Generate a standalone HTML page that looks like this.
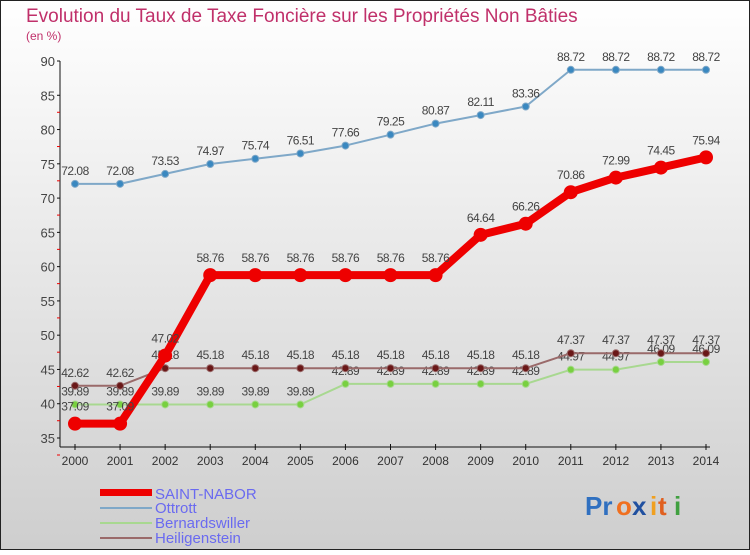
<!DOCTYPE html>
<html><head><meta charset="utf-8"><style>
body{margin:0;width:750px;height:550px;overflow:hidden;font-family:"Liberation Sans",sans-serif}
</style></head><body>
<svg width="750" height="550" xmlns="http://www.w3.org/2000/svg">
<defs><linearGradient id="bg" x1="0" y1="0" x2="0" y2="1"><stop offset="0" stop-color="#ffffff"/><stop offset="1" stop-color="#cecece"/></linearGradient></defs>
<rect x="0.5" y="0.5" width="749" height="549" fill="url(#bg)" stroke="#222"/>
<text x="26" y="22" font-size="19" fill="#c0306a">Evolution du Taux de Taxe Foncière sur les Propriétés Non Bâties</text>
<text x="26" y="40" font-size="12" fill="#c0306a">(en %)</text>
<g id="axes"></g>
<g id="series"></g>
<g>
<rect x="100" y="489" width="52" height="7" fill="#ee0000"/>
<text x="155" y="499" font-size="15" fill="#6a6af0">SAINT-NABOR</text>
<line x1="100" y1="508" x2="152" y2="508" stroke="#7fa8c8" stroke-width="2"/>
<text x="155" y="513" font-size="15" fill="#6a6af0">Ottrott</text>
<line x1="100" y1="523" x2="152" y2="523" stroke="#a8d890" stroke-width="2"/>
<text x="155" y="528" font-size="15" fill="#6a6af0">Bernardswiller</text>
<line x1="100" y1="538" x2="152" y2="538" stroke="#9a6a6a" stroke-width="2"/>
<text x="155" y="543" font-size="15" fill="#6a6af0">Heiligenstein</text>
</g>
<g font-size="26" font-weight="bold">
<text x="585" y="515" fill="#3070c0">Pr</text><text x="616" y="515" fill="#f07020">o</text><text x="632" y="515" fill="#2050a0">x</text><text x="650" y="515" fill="#f0a020">i</text><text x="658" y="515" fill="#e06020">t</text><text x="674" y="515" fill="#40a040">i</text>
</g>
</svg>
<script>
const years=[2000,2001,2002,2003,2004,2005,2006,2007,2008,2009,2010,2011,2012,2013,2014];
const yTicks=[35,40,45,50,55,60,65,70,75,80,85,90];
const saintNabor=[37.09,37.09,47.02,58.76,58.76,58.76,58.76,58.76,58.76,64.64,66.26,70.86,72.99,74.45,75.94];
const ottrott=[72.08,72.08,73.53,74.97,75.74,76.51,77.66,79.25,80.87,82.11,83.36,88.72,88.72,88.72,88.72];
const bernardswiller=[39.89,39.89,39.89,39.89,39.89,39.89,42.89,42.89,42.89,42.89,42.89,44.97,44.97,46.09,46.09];
const heiligenstein=[42.62,42.62,45.18,45.18,45.18,45.18,45.18,45.18,45.18,45.18,45.18,47.37,47.37,47.37,47.37];
const NS="http://www.w3.org/2000/svg";
const xS=i=>75+i*(706-75)/(years.length-1);
const yS=v=>438-(v-35)*(438-61)/55;
function mk(t,a,p){const e=document.createElementNS(NS,t);for(const k in a)e.setAttribute(k,a[k]);p.appendChild(e);return e;}
const ax=document.getElementById('axes');
const yl=mk('line',{x1:60,y1:61,x2:60,y2:447,stroke:'#111'},ax);


const xl=mk('line',{x1:60,y1:447,x2:710,y2:447,stroke:'#111'},ax);


yTicks.forEach(v=>{const y=yS(v);
mk('line',{x1:57,y1:y,x2:60,y2:y,stroke:'#111'},ax);
if(v<90)mk('line',{x1:57,y1:y+17,x2:60,y2:y+17,stroke:'#e00'},ax);
const t=mk('text',{x:55,y:y+5,'text-anchor':'end','font-size':13,fill:'#444'},ax);t.textContent=v;

});
years.forEach((yr,i)=>{const x=xS(i);
mk('line',{x1:x,y1:444,x2:x,y2:450,stroke:'#111'},ax);
const t=mk('text',{x:x,y:465,'text-anchor':'middle','font-size':12,fill:'#333'},ax);t.textContent=yr;

});
const sg=document.getElementById('series');
function draw(name,data,color,w,r,dot,labelDy){
const g=mk('g',{},sg);


mk('polyline',{points:data.map((v,i)=>xS(i)+','+yS(v)).join(' '),fill:'none',stroke:color,'stroke-width':w,'stroke-linejoin':'round'},g);
data.forEach((v,i)=>{const c=mk('circle',{cx:xS(i),cy:yS(v),r:r,fill:dot,stroke:color,'stroke-width':1},g);


const t=mk('text',{x:xS(i),y:yS(v)+labelDy,'text-anchor':'middle','font-size':12,fill:'#444','letter-spacing':'-0.5'},g);t.textContent=v.toFixed(2);

});}
draw('ottrott',ottrott,'#7fa8c8',2,3.5,'#3a88c0',-9);
draw('bernardswiller',bernardswiller,'#a8d890',2,3.5,'#78d040',-9);
draw('heiligenstein',heiligenstein,'#9a6a6a',2,3.5,'#6a1818',-9);
draw('saint-nabor',saintNabor,'#ee0000',8,6.5,'#ee0000',-13);
</script>
</body></html>
